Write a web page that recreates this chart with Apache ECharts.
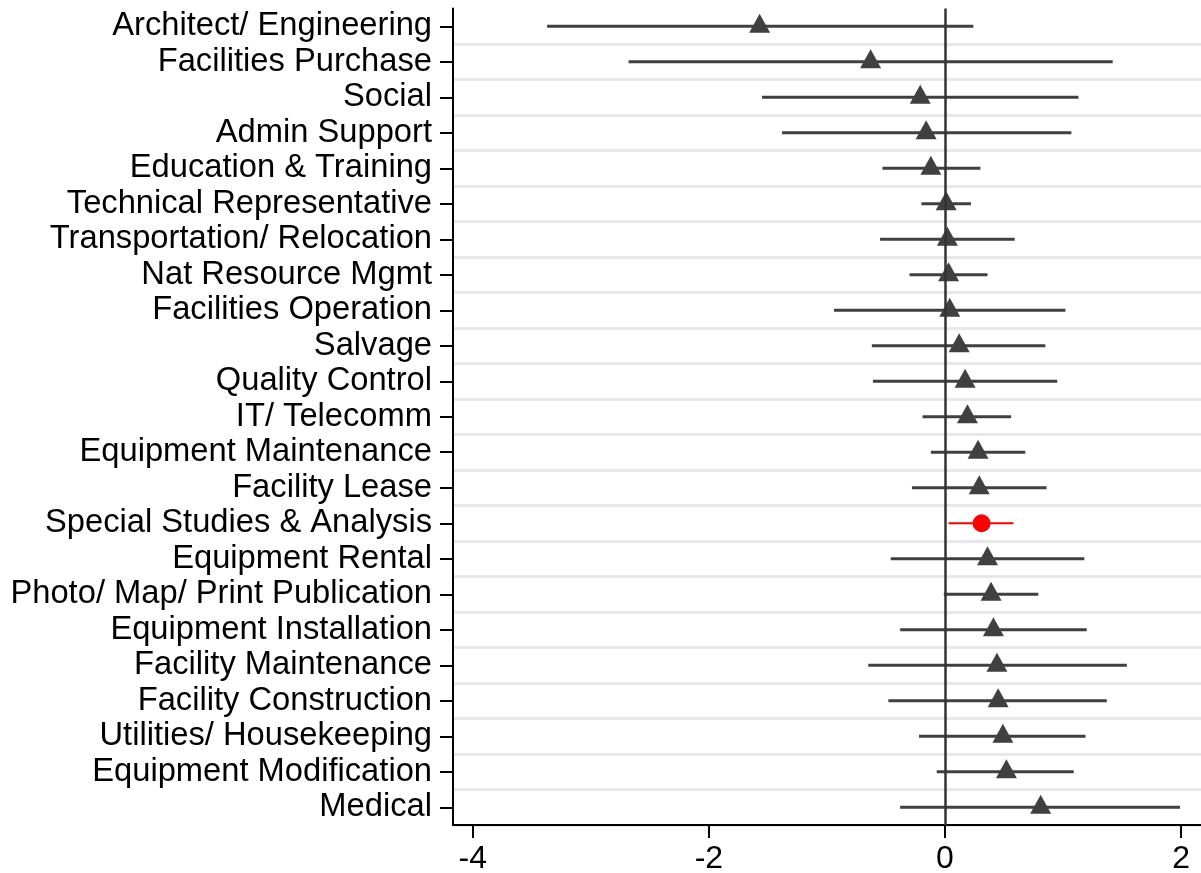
<!DOCTYPE html>
<html>
<head>
<meta charset="utf-8">
<script src="https://cdn.jsdelivr.net/npm/echarts@6/dist/echarts.min.js"></script>
<style>
  html, body { margin: 0; padding: 0; background: #fff; }
  #chart { width: 1201px; height: 873px; }
</style>
</head>
<body>
<div id="chart"></div>
<script>
// Service categories, listed top to bottom
const categories = [
  'Architect/ Engineering', 'Facilities Purchase', 'Social', 'Admin Support',
  'Education & Training', 'Technical Representative', 'Transportation/ Relocation',
  'Nat Resource Mgmt', 'Facilities Operation', 'Salvage', 'Quality Control',
  'IT/ Telecomm', 'Equipment Maintenance', 'Facility Lease',
  'Special Studies & Analysis', 'Equipment Rental', 'Photo/ Map/ Print Publication',
  'Equipment Installation', 'Facility Maintenance', 'Facility Construction',
  'Utilities/ Housekeeping', 'Equipment Modification', 'Medical'
];
// Point estimates
const estimates = [
  -1.57, -0.63, -0.21, -0.16, -0.12, 0.01, 0.02, 0.03, 0.04, 0.12, 0.17, 0.19,
  0.28, 0.29, 0.31, 0.36, 0.39, 0.41, 0.44, 0.45, 0.49, 0.52, 0.81
];
// Lower confidence bounds
const lower = [
  -3.37, -2.68, -1.55, -1.38, -0.53, -0.20, -0.55, -0.30, -0.94, -0.62, -0.61, -0.19,
  -0.12, -0.28, 0.03, -0.46, -0.01, -0.38, -0.65, -0.48, -0.22, -0.07, -0.38
];
// Upper confidence bounds
const upper = [
  0.24, 1.42, 1.13, 1.07, 0.30, 0.22, 0.59, 0.36, 1.02, 0.85, 0.95, 0.56,
  0.68, 0.86, 0.58, 1.18, 0.79, 1.20, 1.54, 1.37, 1.19, 1.09, 1.99
];
// x-axis tick labels
const xTicks = [-4, -2, 0, 2];
// Category drawn in the accent colour
const highlighted = 'Special Studies & Analysis';

const FONT = 'Liberation Sans, Arial, Helvetica, sans-serif';
const GREY = '#404040';
const RED = '#ff0000';

const intervalData = categories.map((c, i) => [i, lower[i], upper[i]]);
const triangleData = [];
const circleData = [];
categories.forEach((c, i) => {
  if (c === highlighted) circleData.push([estimates[i], i]);
  else triangleData.push([estimates[i], i]);
});

const chart = echarts.init(document.getElementById('chart'), null, { renderer: 'canvas' });
chart.setOption({
  animation: false,
  backgroundColor: '#ffffff',
  grid: {
    left: 453, right: 0, top: 8.5, bottom: 48,
    containLabel: false, outerBoundsMode: 'none'
  },
  xAxis: {
    type: 'value',
    min: -4.167,
    max: 2.168,
    axisLine: { show: true, onZero: false, lineStyle: { color: '#000', width: 2 } },
    axisTick: { show: true, length: 13, customValues: xTicks, lineStyle: { color: '#000', width: 2 } },
    axisLabel: {
      customValues: xTicks,
      fontSize: 32, fontFamily: FONT, color: '#000', margin: 18,
      formatter: v => String(v)
    },
    splitLine: { show: false }
  },
  yAxis: {
    type: 'category',
    data: categories,
    inverse: true,
    boundaryGap: true,
    axisLine: { show: true, onZero: false, lineStyle: { color: '#000', width: 2 } },
    axisTick: { show: true, alignWithLabel: true, length: 13, lineStyle: { color: '#000', width: 2 } },
    axisLabel: {
      fontSize: 32.7, fontFamily: FONT, color: '#000', margin: 21, interval: 0,
      padding: [6, 0, 0, 0]
    },
    splitLine: {
      show: true,
      interval: idx => idx !== 0,
      lineStyle: { color: '#e8e8e8', width: 3 }
    }
  },
  series: [
    {
      // confidence intervals
      type: 'custom',
      z: 2,
      encode: { x: [1, 2], y: 0 },
      data: intervalData,
      renderItem: (params, api) => {
        const idx = api.value(0);
        const p1 = api.coord([api.value(1), idx]);
        const p2 = api.coord([api.value(2), idx]);
        const isHi = categories[idx] === highlighted;
        return {
          type: 'line',
          shape: { x1: p1[0], y1: p1[1], x2: p2[0], y2: p2[1] },
          style: { stroke: isHi ? RED : GREY, lineWidth: isHi ? 2 : 3 }
        };
      },
      markLine: {
        silent: true,
        symbol: 'none',
        label: { show: false },
        lineStyle: { color: '#333333', width: 2.5, type: 'solid' },
        data: [{ xAxis: 0 }]
      }
    },
    {
      type: 'scatter',
      z: 4,
      symbol: 'triangle',
      symbolSize: [21, 19],
      symbolOffset: [0, -3],
      itemStyle: { color: GREY, opacity: 1 },
      data: triangleData
    },
    {
      type: 'scatter',
      z: 4,
      symbol: 'circle',
      symbolSize: 18,
      itemStyle: { color: RED, opacity: 1 },
      data: circleData
    }
  ]
});
</script>
</body>
</html>
